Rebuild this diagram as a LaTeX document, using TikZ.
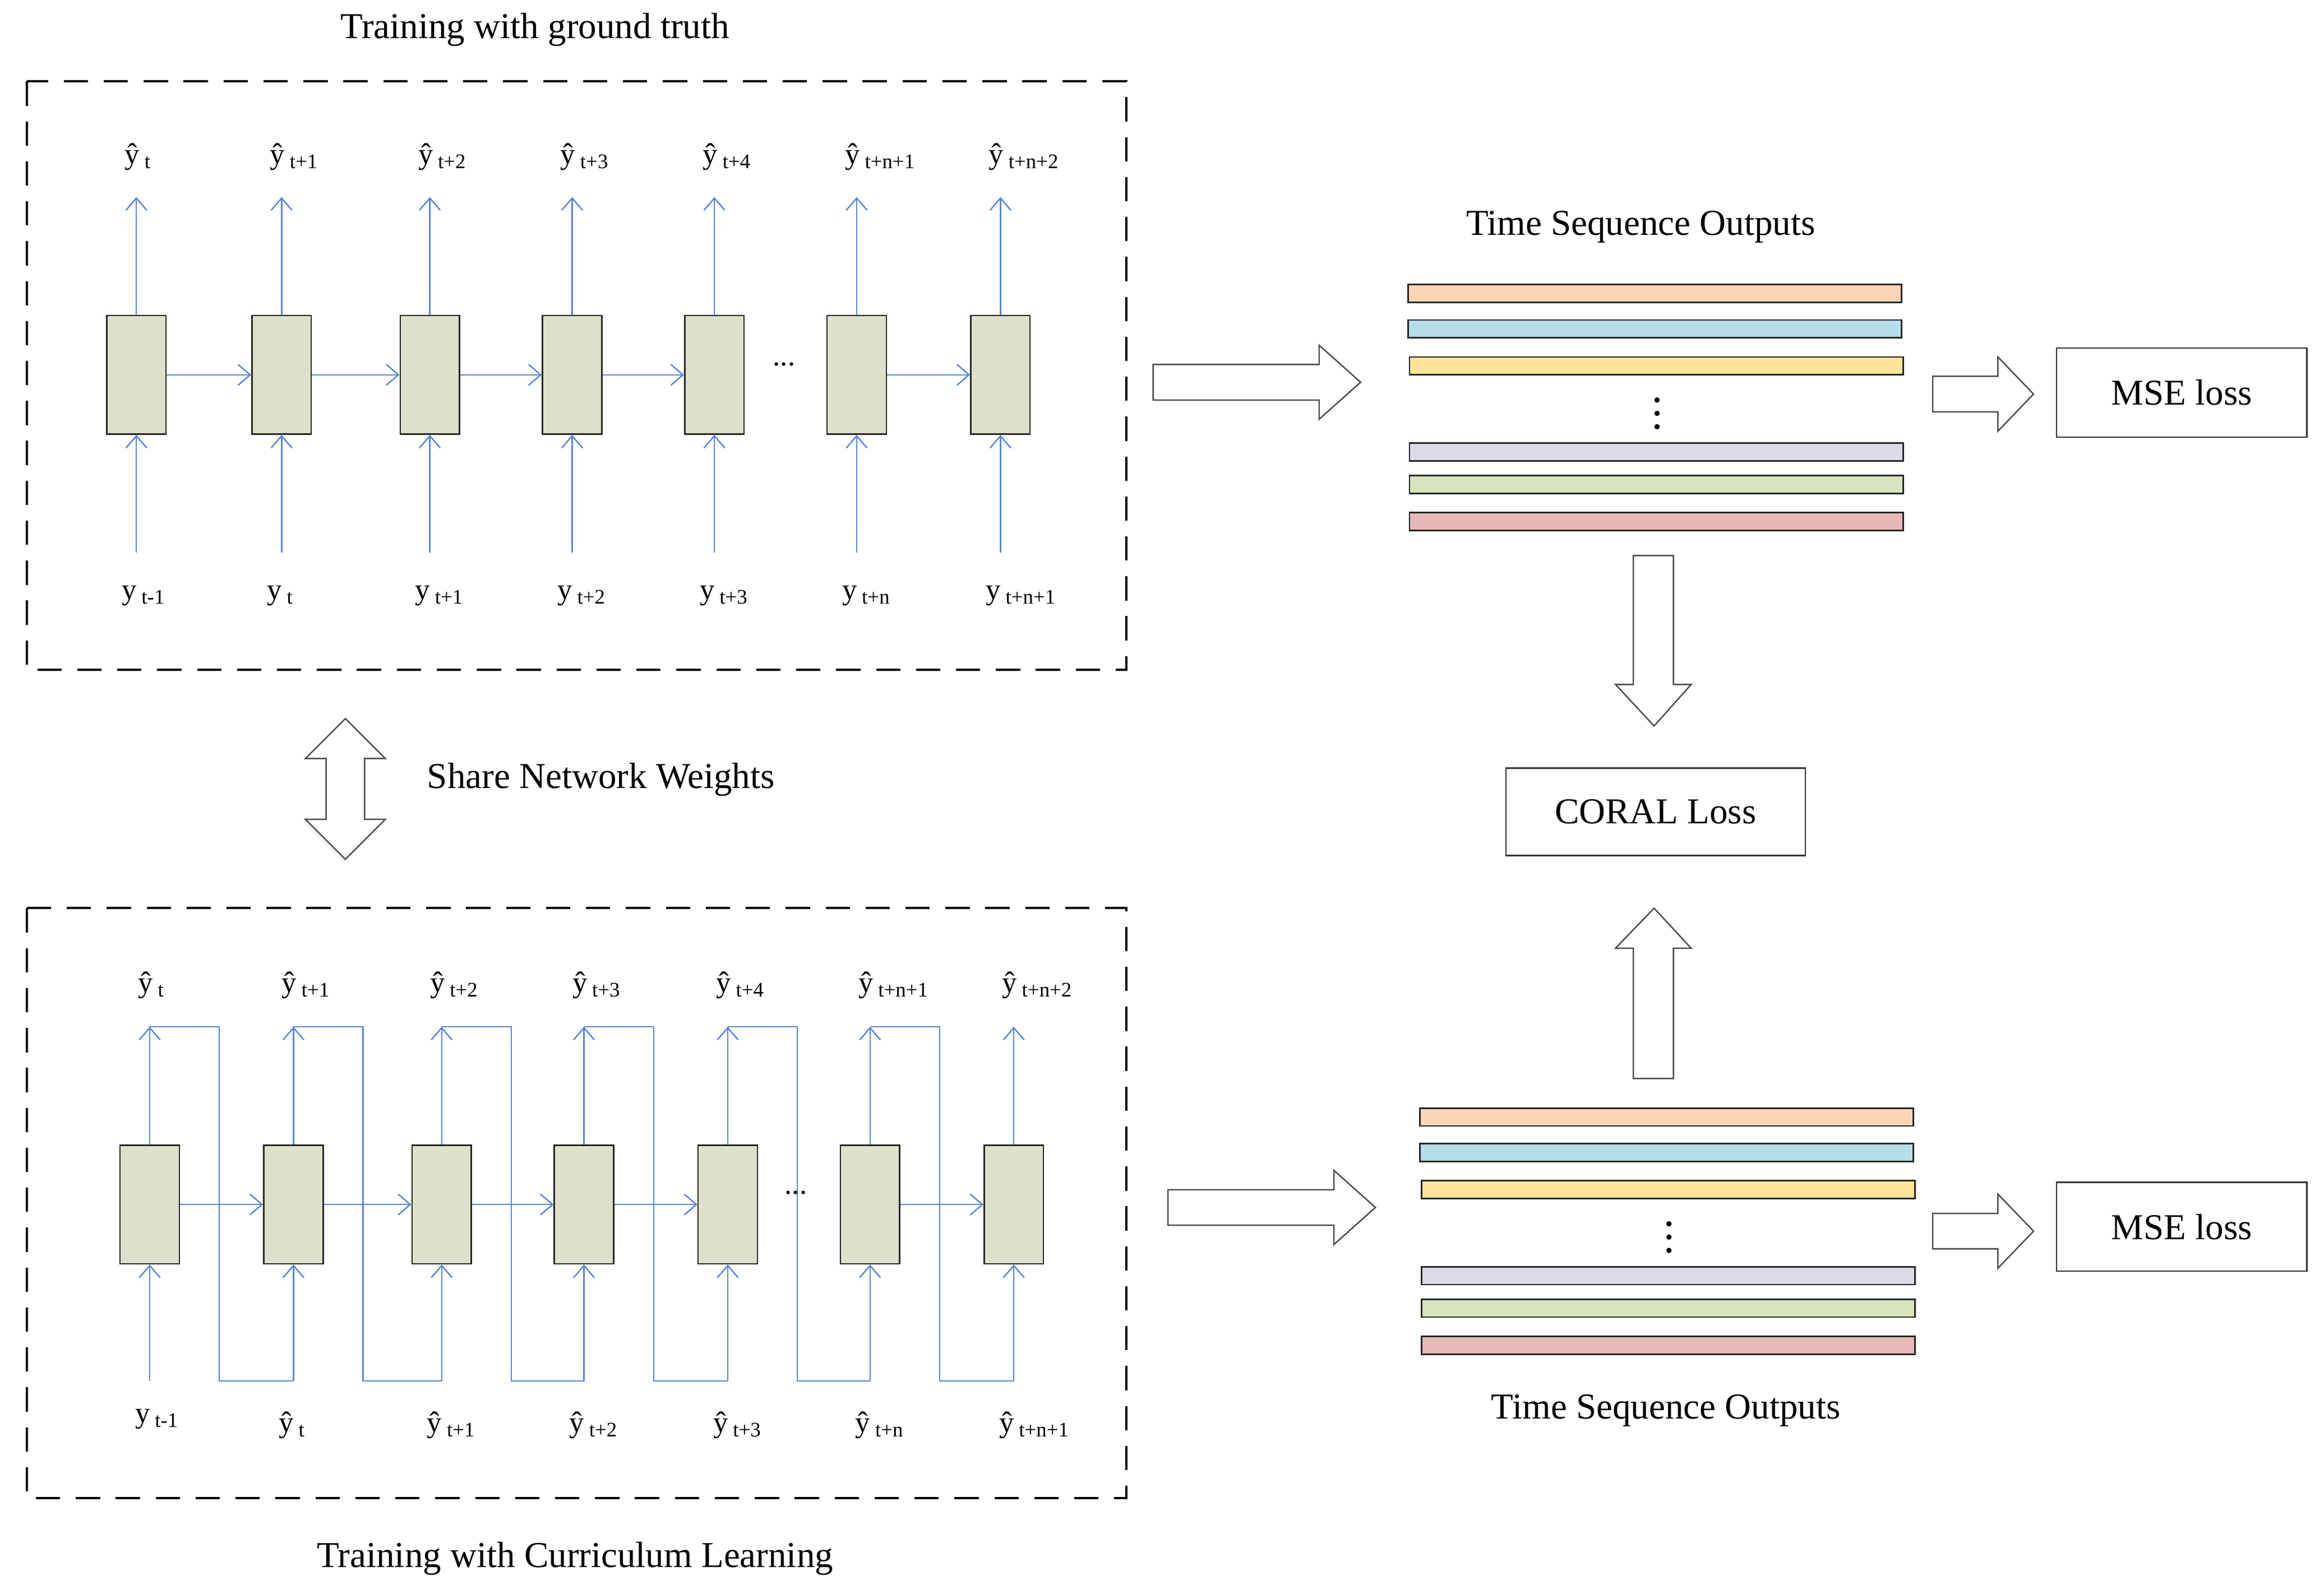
\documentclass[tikz,border=0pt]{standalone}
\usepackage{fontspec}
\setmainfont{Liberation Serif}
\usetikzlibrary{arrows.meta}
\definecolor{lb}{HTML}{5B87D0}
\definecolor{cf}{HTML}{DDE1CB}
\begin{document}
\begin{tikzpicture}[x=0.03cm,y=-0.03cm,
  cell/.style={draw=black!85,fill=cf,line width=0.8pt,minimum width=1.2cm,minimum height=2.4cm,inner sep=0},
  bl/.style={draw=lb,line width=0.8pt},
  ba/.style={bl,-{Straight Barb[length=7pt,width=12pt]}},
  lab/.style={font=\fontsize{17}{19}\selectfont,inner sep=0},
  ttl/.style={font=\fontsize{21}{24}\selectfont,inner sep=0},
  bar/.style={draw=black!85,line width=0.9pt},
  blk/.style={draw=black!70,line width=0.8pt,fill=white},
  box/.style={draw=black!80,line width=0.8pt,font=\fontsize{21}{24}\selectfont}]
\useasboundingbox (0,0) rectangle (1568,1073);
\newcommand{\yh}[1]{\^{y}\,\textsubscript{#1}}
\newcommand{\yy}[1]{y\,\textsubscript{#1}}
% top dashed box
\draw[line width=1.3pt,dash pattern=on 14pt off 9pt] (18,55) rectangle (760,452);
\node[ttl] (t1) at (361,20) {Training with ground truth};
\foreach \i/\x/\o/\n in {1/92/t/t-1,2/190/t+1/t,3/290/t+2/t+1,4/386/t+3/t+2,5/482/t+4/t+3,6/578/t+n+1/t+n,7/675/t+n+2/t+n+1}{
  \node[cell] (c\i) at (\x,253) {};
  \coordinate (co\i) at (\x,133);
  \coordinate (ci\i) at (\x,373);
  \draw[ba] (c\i.north) -- (co\i);
  \draw[ba] (ci\i) -- (c\i.south);
  \node[lab,anchor=west] (lo\i) at (\x-8,106) {\yh{\o}};
  \node[lab,anchor=west] (li\i) at (\x-10,402) {\yy{\n}};
}
\foreach \a/\b in {1/2,2/3,3/4,4/5,6/7} \draw[ba] (c\a.east) -- (c\b.west);
\node[lab] (dt) at (529,246) {...};
% bottom dashed box
\draw[line width=1.3pt,dash pattern=on 14pt off 9pt] (18,613) rectangle (760,1011);
\node[ttl] (t2) at (388,1052) {Training with Curriculum Learning};
\foreach \i/\x/\o in {1/101/t,2/198/t+1,3/298/t+2,4/394/t+3,5/491/t+4,6/587/t+n+1,7/684/t+n+2}{
  \node[cell] (d\i) at (\x,813) {};
  \coordinate (do\i) at (\x,693);
  \draw[ba] (d\i.north) -- (do\i);
  \node[lab,anchor=west] (mo\i) at (\x-8,665) {\yh{\o}};
}
\foreach \i/\x/\n in {2/198/t,3/298/t+1,4/394/t+2,5/491/t+3,6/587/t+n,7/684/t+n+1}{
  \node[lab,anchor=west] (mi\i) at (\x-10,962) {\yh{\n}};
}
\coordinate (di1) at (101,932);
\draw[ba] (di1) -- (d1.south);
\node[lab,anchor=west] (mi1) at (91,958) {\yy{t-1}};
\foreach \a/\b/\x/\nx in {1/2/101/198,2/3/198/298,3/4/298/394,4/5/394/491,5/6/491/587,6/7/587/684}{
  \draw[bl] (do\a) -- (\x+47,693) -- (\x+47,932) -- (\nx,932);
  \draw[ba] (\nx,932) -- (d\b.south);
}
\foreach \a/\b in {1/2,2/3,3/4,4/5,6/7} \draw[ba] (d\a.east) -- (d\b.west);
\node[lab] (dt2) at (537,805) {...};
% share weights
\draw[blk] (233,485) -- (260,512) -- (246,512) -- (246,553) -- (260,553) -- (233,580) -- (206,553) -- (220,553) -- (220,512) -- (206,512) -- cycle;
\node[ttl,anchor=west] (sw) at (288,526) {Share Network Weights};
% block arrows right
\foreach \y/\x in {258/778,815/788}
  \draw[blk] (\x,\y-12) -- (\x+112,\y-12) -- (\x+112,\y-25) -- (\x+140,\y) -- (\x+112,\y+25) -- (\x+112,\y+12) -- (\x,\y+12) -- cycle;
% bars
\node[ttl] (ts1) at (1107,153) {Time Sequence Outputs};
\node[ttl] (ts2) at (1124,952) {Time Sequence Outputs};
\foreach \x/\y in {950/0,958/556}{
  \filldraw[bar,fill={rgb,255:red,251;green,213;blue,181}] (\x,192+\y) rectangle (\x+333,204+\y);
  \filldraw[bar,fill={rgb,255:red,183;green,221;blue,232}] (\x,216+\y) rectangle (\x+333,228+\y);
  \filldraw[bar,fill={rgb,255:red,255;green,228;blue,153}] (\x+1,241+\y) rectangle (\x+334,253+\y);
  \filldraw[bar,fill={rgb,255:red,221;green,217;blue,230}] (\x+1,299+\y) rectangle (\x+334,311+\y);
  \filldraw[bar,fill={rgb,255:red,215;green,228;blue,189}] (\x+1,321+\y) rectangle (\x+334,333+\y);
  \filldraw[bar,fill={rgb,255:red,230;green,185;blue,184}] (\x+1,346+\y) rectangle (\x+334,358+\y);
  \foreach \d in {270,279,288} \fill (\x+168,\d+\y) circle (1.8);
}
% MSE
\node[box,minimum width=5.07cm,minimum height=1.8cm] (m1) at (1472,265) {MSE loss};
\node[box,minimum width=5.07cm,minimum height=1.8cm] (m2) at (1472,828) {MSE loss};
\foreach \y in {266,831}
  \draw[blk] (1304,\y-12) -- (1348,\y-12) -- (1348,\y-25) -- (1372,\y) -- (1348,\y+25) -- (1348,\y+12) -- (1304,\y+12) -- cycle;
% CORAL
\node[box,minimum width=6.06cm,minimum height=1.77cm] (cl) at (1117,548) {CORAL Loss};
\draw[blk] (1102,375) -- (1129,375) -- (1129,462) -- (1141,462) -- (1116,490) -- (1090,462) -- (1102,462) -- cycle;
\draw[blk] (1102,728) -- (1129,728) -- (1129,640) -- (1141,640) -- (1116,613) -- (1090,640) -- (1102,640) -- cycle;
\end{tikzpicture}
\end{document}
